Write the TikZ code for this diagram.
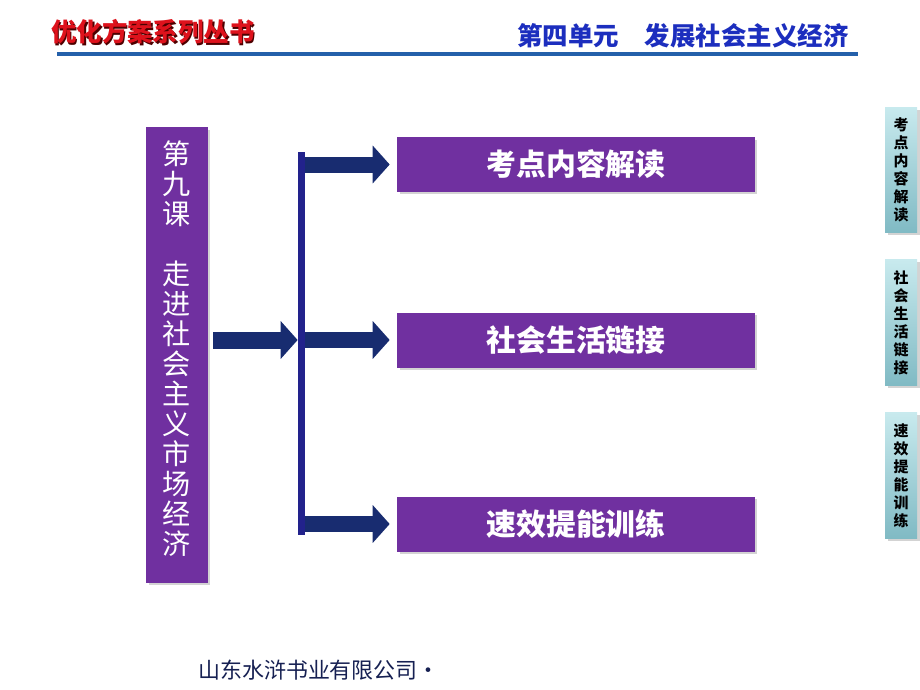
\documentclass[tikz,border=0pt]{standalone}
\usepackage{fontspec}
\setmainfont{Noto Sans CJK SC}
\usetikzlibrary{arrows.meta,shadows}
\definecolor{kepurple}{RGB}{112,48,160}
\definecolor{kenavy}{RGB}{24,44,112}
\definecolor{kebar}{RGB}{34,34,140}
\definecolor{keline}{RGB}{36,96,170}
\definecolor{keblue}{RGB}{28,46,190}
\definecolor{kered}{RGB}{222,18,28}
\definecolor{kefoot}{RGB}{22,32,82}
\definecolor{ketabtop}{RGB}{200,234,238}
\definecolor{ketabbot}{RGB}{128,186,196}
\tikzset{
  box/.style={fill=kepurple,text=white,minimum width=7.16cm,minimum height=1.1cm,
    font=\bfseries\fontsize{17}{17}\selectfont,
    drop shadow={opacity=0.35,shadow xshift=0.05cm,shadow yshift=-0.05cm}},
  tab/.style={top color=ketabtop,bottom color=ketabbot,minimum width=0.64cm,minimum height=2.52cm,
    inner sep=0pt,align=center,font=\bfseries\fontsize{8.5}{10.2}\selectfont,
    drop shadow={opacity=0.35,shadow xshift=0.05cm,shadow yshift=-0.05cm}},
  flow/.style={kenavy,line width=0.32cm,-{Triangle[length=0.34cm,width=0.74cm]}}
}
\begin{document}
\begin{tikzpicture}[x=0.02cm,y=-0.02cm]
\useasboundingbox (0,0) rectangle (920,690);
% header
\node[text=black!70!red,font=\bfseries\fontsize{14.5}{14.5}\selectfont] (seriesshadow) at (154.5,33.5) {优化方案系列丛书};
\node[text=kered,font=\bfseries\fontsize{14.5}{14.5}\selectfont] (series) at (153,32) {优化方案系列丛书};
\node[text=keblue,font=\bfseries\fontsize{14.5}{14.5}\selectfont] (unit) at (683,36) {第四单元　发展社会主义经济};
\draw[keline,line width=0.08cm] (57,54) -- (858,54);
% lesson box
\node[fill=kepurple,minimum width=1.24cm,minimum height=9.12cm,
  drop shadow={opacity=0.35,shadow xshift=0.05cm,shadow yshift=-0.05cm}] (lesson) at (177,355) {};
\node[text=white,align=center,font=\fontsize{16}{17.1}\selectfont] (lessonlbl) at (177,348.5)
  {第\\九\\课\\[17.1pt]走\\进\\社\\会\\主\\义\\市\\场\\经\\济};
% right boxes
\node[box] (kd) at (576,164.5) {考点内容解读};
\node[box] (sh) at (576,340) {社会生活链接};
\node[box] (sx) at (576,524) {速效提能训练};
% bar and arrows
\node[fill=kebar,minimum width=0.14cm,minimum height=7.66cm,inner sep=0pt] (bar) at (301.5,343.5) {};
\draw[flow,line width=0.34cm,shorten <=0.1cm] (lesson.east |- sh.west) -- (bar.west |- sh.west);
\draw[flow,shorten >=0.14cm] (bar.east |- kd.west) -- (kd.west);
\draw[flow,shorten >=0.14cm] (bar.east |- sh.west) -- (sh.west);
\draw[flow,shorten >=0.14cm] (bar.east |- sx.west) -- (sx.west);
% side tabs
\node[tab] (tabkd) at (901,170) {考\\点\\内\\容\\解\\读};
\node[tab] (tabsh) at (901,322.5) {社\\会\\生\\活\\链\\接};
\node[tab] (tabsx) at (901,475.5) {速\\效\\提\\能\\训\\练};
% footer
\node[text=kefoot,font=\fontsize{12.5}{12.5}\selectfont] (press) at (319,670) {山东水浒书业有限公司·};
\end{tikzpicture}
\end{document}
